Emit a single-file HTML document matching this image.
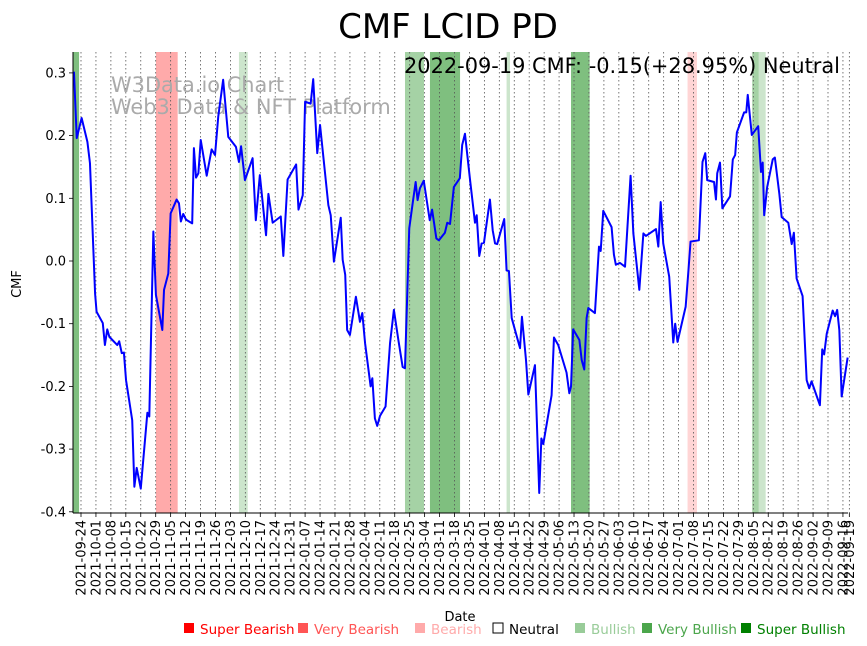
<!DOCTYPE html>
<html><head><meta charset="utf-8"><style>
body{margin:0;background:#fff;width:867px;height:646px;overflow:hidden}
svg{display:block;font-family:"DejaVu Sans","Liberation Sans",sans-serif}
</style></head><body>
<svg id="c" width="867" height="646">
<text x="448" y="38" font-size="34" text-anchor="middle">CMF LCID PD</text>
<g id="bands"></g><g id="grid"></g>
<text x="111" y="92" font-size="20.9" fill="#aaa">W3Data.io Chart</text>
<text x="111" y="114" font-size="20.9" fill="#aaa">Web3 Data &amp; NFT Platform</text>
<text x="840" y="73" font-size="20.9" text-anchor="end">2022-09-19 CMF: -0.15(+28.95%) Neutral</text>
<g id="line"></g><g id="axes"></g>
<text transform="translate(21,284) rotate(-90)" font-size="13" text-anchor="middle">CMF</text>
<text x="460" y="621" font-size="13" text-anchor="middle">Date</text>
<g id="legend" font-size="13.5"></g>
</svg>
<script>
const tickLabels=["2021-09-24","2021-10-01","2021-10-08","2021-10-15","2021-10-22","2021-10-29","2021-11-05","2021-11-12","2021-11-19","2021-11-26","2021-12-03","2021-12-10","2021-12-17","2021-12-24","2021-12-31","2022-01-07","2022-01-14","2022-01-21","2022-01-28","2022-02-04","2022-02-11","2022-02-18","2022-02-25","2022-03-04","2022-03-11","2022-03-18","2022-03-25","2022-04-01","2022-04-08","2022-04-15","2022-04-22","2022-04-29","2022-05-06","2022-05-13","2022-05-20","2022-05-27","2022-06-03","2022-06-10","2022-06-17","2022-06-24","2022-07-01","2022-07-08","2022-07-15","2022-07-22","2022-07-29","2022-08-05","2022-08-12","2022-08-19","2022-08-26","2022-09-02","2022-09-09","2022-09-16","2022-09-19"];
const tickDays=[0,7,14,21,28,35,42,49,56,63,70,77,84,91,98,105,112,119,126,133,140,147,154,161,168,175,182,189,196,203,210,217,224,231,238,245,252,259,266,273,280,287,294,301,308,315,322,329,336,343,350,357,360];
const yTicks=[0.3,0.2,0.1,0.0,-0.1,-0.2,-0.3,-0.4];
const days=[-3.3,-2.0,0.3,3.0,4.2,6.6,7.3,10.2,11.2,12.3,13.3,17.0,17.9,19.1,20.1,21.1,24.0,25.0,26.1,28.0,31.1,32.0,33.9,35.1,38.1,38.9,40.9,42.0,44.8,45.9,46.8,47.9,49.2,52.1,52.9,53.9,55.0,56.1,58.9,61.2,62.8,64.3,66.6,69.0,72.6,74.0,75.0,76.8,80.4,81.9,83.8,86.7,87.8,89.8,93.6,94.8,96.8,100.8,101.9,103.9,105.0,107.6,108.8,110.7,112.0,115.9,117.0,118.5,121.7,122.6,123.8,124.7,126.0,128.8,130.7,131.8,133.1,135.7,136.5,137.7,138.8,140.1,142.7,144.8,146.6,148.7,150.7,151.8,153.8,155.4,156.8,157.7,158.8,160.6,163.4,164.5,166.5,167.7,170.5,171.6,172.9,174.7,177.5,178.6,179.9,182.2,184.6,185.4,186.6,187.7,188.8,191.6,192.9,194.0,195.0,198.3,199.4,200.5,201.8,205.7,206.6,208.5,209.6,212.7,214.7,215.7,216.6,220.5,221.6,223.6,227.5,228.8,229.6,230.6,233.5,234.6,235.8,236.9,237.7,240.8,242.7,243.5,244.7,248.6,249.7,250.6,252.5,254.9,257.5,258.8,261.6,263.5,264.7,269.4,270.5,271.6,272.8,275.6,277.5,278.4,279.5,283.3,284.5,285.6,289.5,291.2,292.5,293.4,296.6,297.5,298.1,299.4,300.5,304.1,305.4,306.5,307.3,310.7,311.7,312.4,314.3,317.3,318.6,319.4,320.1,321.5,324.1,325.1,327.2,328.3,331.4,333.0,334.0,335.3,338.1,340.0,341.2,342.3,346.2,347.3,348.2,349.4,352.2,353.3,354.3,355.3,356.4,359.2];
const cmf=[0.302,0.196,0.228,0.190,0.156,-0.052,-0.081,-0.099,-0.134,-0.109,-0.121,-0.134,-0.128,-0.147,-0.146,-0.190,-0.254,-0.360,-0.330,-0.363,-0.242,-0.248,0.047,-0.054,-0.110,-0.046,-0.020,0.076,0.098,0.092,0.063,0.075,0.066,0.060,0.180,0.133,0.140,0.193,0.136,0.178,0.169,0.230,0.289,0.198,0.182,0.158,0.183,0.129,0.164,0.065,0.137,0.041,0.107,0.061,0.071,0.008,0.130,0.154,0.082,0.105,0.254,0.251,0.290,0.172,0.217,0.089,0.073,-0.001,0.069,0.002,-0.022,-0.110,-0.118,-0.057,-0.097,-0.083,-0.131,-0.200,-0.187,-0.251,-0.263,-0.247,-0.232,-0.131,-0.078,-0.126,-0.169,-0.171,0.052,0.092,0.126,0.097,0.116,0.128,0.065,0.082,0.036,0.033,0.045,0.061,0.059,0.118,0.132,0.185,0.203,0.132,0.061,0.073,0.008,0.028,0.029,0.098,0.049,0.028,0.027,0.067,-0.015,-0.016,-0.091,-0.139,-0.089,-0.158,-0.213,-0.166,-0.370,-0.283,-0.292,-0.214,-0.122,-0.134,-0.178,-0.211,-0.200,-0.109,-0.126,-0.158,-0.173,-0.091,-0.075,-0.083,0.023,0.016,0.080,0.054,0.010,-0.006,-0.003,-0.009,0.136,0.044,-0.046,0.044,0.040,0.051,0.023,0.094,0.028,-0.025,-0.130,-0.100,-0.129,-0.073,-0.020,0.031,0.033,0.158,0.172,0.129,0.126,0.098,0.140,0.157,0.084,0.103,0.162,0.169,0.205,0.237,0.237,0.265,0.201,0.215,0.142,0.157,0.073,0.118,0.162,0.165,0.107,0.070,0.061,0.027,0.045,-0.028,-0.056,-0.190,-0.203,-0.192,-0.230,-0.141,-0.149,-0.116,-0.079,-0.088,-0.078,-0.110,-0.216,-0.154];
const bandStart=[-3.6,35.1,74.0,151.8,163.5,199.4,229.6,284.2,314.5,317.6];
const bandEnd=[-0.9,45.3,78.1,160.7,177.6,201.0,238.3,288.6,317.6,320.8];
const bandLevel=["superBull","veryBear","bull","veryBull","superBull","bull","superBull","bear","veryBull","bull"];
const bandColor={superBull:"#7fbf7f",veryBull:"#a5d2a5",bull:"#cce5cc",bear:"#ffd5d5",veryBear:"#ffaaaa"};
const legendNames=["Super Bearish","Very Bearish","Bearish","Neutral","Bullish","Very Bullish","Super Bullish"];
const legendColors=["#ff0000","#ff5555","#ffaaaa","none","#99cc99","#4ca64c","#008000"];
const legendX=[183,297,414,492,574,641,740];

const NS="http://www.w3.org/2000/svg";
const L=73,R=848,T=52,B=513;
const xs=d=>81+d*(14.94/7);
const ys=v=>261-v*627;
function mk(t,a,p){const e=document.createElementNS(NS,t);for(const k in a)e.setAttribute(k,a[k]);p.appendChild(e);return e;}
const gb=document.getElementById('bands');
bandStart.forEach((s,i)=>{const r=mk('rect',{x:xs(s),y:T,width:xs(bandEnd[i])-xs(s),height:B-T,fill:bandColor[bandLevel[i]]},gb);

});
const gg=document.getElementById('grid'),ga=document.getElementById('axes');
tickDays.forEach((d,i)=>{const x=xs(d);
const g=mk('line',{x1:x,x2:x,y1:T,y2:B,stroke:'#555','stroke-width':0.8,'stroke-dasharray':'1.5,2.5'},gg);


mk('line',{x1:x,x2:x,y1:B,y2:B+4,stroke:'#000','stroke-width':0.8},ga);
const t=mk('text',{transform:`translate(${x+4.5},${B+7}) rotate(-90)`,'font-size':13,'text-anchor':'end'},ga);
t.textContent=tickLabels[i];

});
yTicks.forEach(v=>{const y=ys(v);
mk('line',{x1:L-4,x2:L,y1:y,y2:y,stroke:'#000','stroke-width':0.8},ga);
const t=mk('text',{x:L-7,y:y+4.5,'font-size':13,'text-anchor':'end'},ga);
t.textContent=v.toFixed(1);

});
mk('line',{x1:L,x2:L,y1:T,y2:B,stroke:'#000','stroke-width':1},ga);
mk('line',{x1:L,x2:R,y1:B,y2:B,stroke:'#000','stroke-width':1},ga);
const pl=mk('polyline',{points:days.map((d,i)=>xs(d)+','+ys(cmf[i])).join(' '),fill:'none',stroke:'#0000ff','stroke-width':2,'stroke-linejoin':'round'},document.getElementById('line'));


const lg=document.getElementById('legend');
legendNames.forEach((n,i)=>{const g=mk('g',{},lg);


mk('rect',{x:legendX[i]+1,y:623,width:10,height:10,fill:legendColors[i]==='none'?'#fff':legendColors[i],stroke:legendColors[i]==='none'?'#000':'none','stroke-width':1},g);
const t=mk('text',{x:legendX[i]+17,y:634,fill:legendColors[i]==='none'?'#000':legendColors[i]},g);t.textContent=n;});
</script>
</body></html>
